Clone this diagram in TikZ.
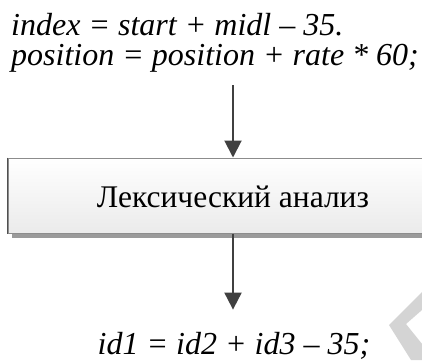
\documentclass[tikz,border=0pt]{standalone}
\usepackage{fontspec}
\setmainfont{Liberation Serif}
\usetikzlibrary{arrows.meta,calc}
\definecolor{arrgray}{HTML}{404040}
\definecolor{boxedge}{HTML}{8C8C8C}
\definecolor{boxleft}{HTML}{505050}
\definecolor{shadowgray}{HTML}{9A9A9A}
\definecolor{wmgray}{HTML}{D4D4D4}
\tikzset{
  codetext/.style={font=\fontsize{32pt}{30pt}\selectfont\itshape, inner sep=0pt, text=black},
  arr/.style={draw=arrgray, line width=2pt, -{Triangle[width=17pt,length=17pt]}},
  procbox/.style={minimum width=450pt, minimum height=75pt, inner sep=0pt,
    top color=white, bottom color=black!8, draw=boxedge, line width=1pt},
  boxlabel/.style={font=\fontsize{31.5pt}{32pt}\selectfont, inner sep=0pt}
}
\begin{document}
\begin{tikzpicture}[x=1pt,y=1pt]
\useasboundingbox (0,0) rectangle (422,-360);
\fill[white] (0,0) rectangle (422,-360);
% watermark fragment
\fill[wmgray] (389,-325) -- (422,-292) -- (422,-310) -- (406,-324) -- (435,-360) -- (411,-360) -- cycle;
% source code
\node[codetext, anchor=base west, align=left] (src) at (11,-65)
  {index = start + midl -- 35.\\position = position + rate * 60;};
% box shadow
\fill[shadowgray] (12,-233.5) rectangle (470,-237.5);
% analysis box
\node[procbox] (lex) at (233,-195.5) {};
\node[boxlabel, anchor=base] (lextext) at (233,-207) {Лексический анализ};
\draw[boxleft, line width=1.5pt] (lex.north west) -- (lex.south west);
% result
\node[codetext, anchor=base] (out) at (234,-354) {id1 = id2 + id3 -- 35;};
\coordinate (a1) at (233,-85);
\draw[arr] (a1) -- (lex.north);
\draw[arr] (lex.south) -- ($(out.north)+(-1,22)$);
\end{tikzpicture}
\end{document}
